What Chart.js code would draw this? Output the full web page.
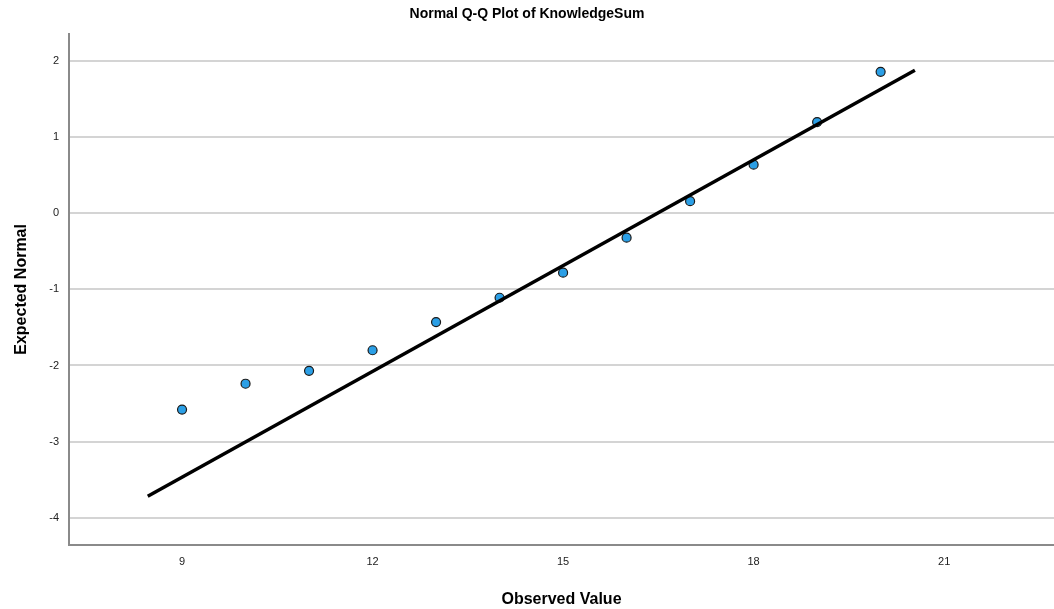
<!DOCTYPE html>
<html>
<head>
<meta charset="utf-8">
<script src="https://cdn.jsdelivr.net/npm/chart.js@4"></script>
<style>
  html, body { margin: 0; padding: 0; background: #fff; }
  #wrap { width: 1054px; height: 609px; }
</style>
</head>
<body>
<div id="wrap"><canvas id="qqChart"></canvas></div>
<script>
// Observed values and their expected normal quantiles
const observed = [9, 10, 11, 12, 13, 14, 15, 16, 17, 18, 19, 20];
const expected = [-2.58, -2.24, -2.07, -1.80, -1.43, -1.11, -0.78, -0.32, 0.16, 0.64, 1.20, 1.86];

// Reference line end points
const lineX = [8.46, 20.54];
const lineY = [-3.72, 1.88];

// Tick labels
const xTicks = [9, 12, 15, 18, 21];
const yTicks = [-4, -3, -2, -1, 0, 1, 2];

const font = "'Liberation Sans', Arial, sans-serif";

const ctx = document.getElementById('qqChart').getContext('2d');
new Chart(ctx, {
    type: 'scatter',
    data: {
        datasets: [{
            label: 'Observed',
            data: observed.map((v, i) => ({ x: v, y: expected[i] })),
            backgroundColor: '#2b9fe6',
            borderColor: '#1a1a1a',
            borderWidth: 1.2,
            pointRadius: 4.5,
            order: 2
        }, {
            label: 'Line',
            data: lineX.map((v, i) => ({ x: v, y: lineY[i] })),
            showLine: true,
            borderColor: '#000',
            borderWidth: 3.5,
            pointRadius: 0,
            order: 1
        }]
    },
    options: {
        responsive: true,
        maintainAspectRatio: false,
        animation: false,
        layout: { padding: 0, autoPadding: false },
        plugins: {
            legend: { display: false },
            tooltip: { enabled: false },
            title: {
                display: true,
                text: 'Normal Q-Q Plot of KnowledgeSum',
                color: '#000',
                font: { family: font, size: 14, weight: 'bold' },
                padding: { top: 6, bottom: 11 }
            }
        },
        scales: {
            x: {
                type: 'linear',
                min: 7.22,
                max: 22.73,
                afterBuildTicks: scale => { scale.ticks = xTicks.map(v => ({ value: v })); },
                afterFit: scale => {
                    scale.height = 64;
                    scale.paddingLeft = 0;
                    scale.paddingRight = 0;
                },
                grid: { display: false, drawTicks: false },
                border: { color: '#8a8a8a', width: 2 },
                ticks: {
                    color: '#222',
                    font: { family: font, size: 11 },
                    padding: 10,
                    maxRotation: 0
                },
                title: {
                    display: true,
                    text: 'Observed Value',
                    color: '#000',
                    font: { family: font, size: 16, weight: 'bold' },
                    padding: { top: 14, bottom: 0 }
                }
            },
            y: {
                type: 'linear',
                min: -4.36,
                max: 2.36,
                afterBuildTicks: scale => { scale.ticks = yTicks.map(v => ({ value: v })); },
                afterFit: scale => {
                    scale.width = 69;
                    scale.paddingTop = 0;
                    scale.paddingBottom = 0;
                },
                grid: { color: '#d4d4d4', lineWidth: 2, drawTicks: false },
                border: { color: '#8a8a8a', width: 2 },
                ticks: {
                    color: '#222',
                    font: { family: font, size: 11 },
                    padding: 10
                },
                title: {
                    display: true,
                    text: 'Expected Normal',
                    color: '#000',
                    font: { family: font, size: 16, weight: 'bold' },
                    padding: { top: 12, bottom: 0 }
                }
            }
        }
    }
});
</script>
</body>
</html>
